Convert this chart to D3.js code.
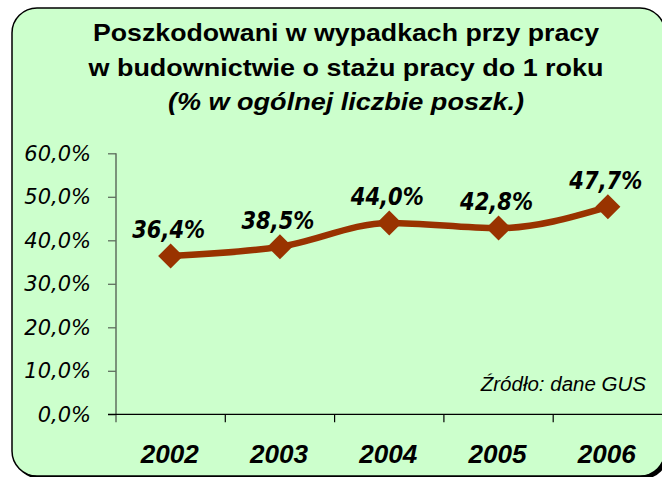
<!DOCTYPE html>
<html>
<head>
<meta charset="utf-8">
<script src="https://cdn.jsdelivr.net/npm/d3@7"></script>
<style>
  html, body { margin: 0; padding: 0; background: #ffffff; }
  svg { display: block; }
</style>
</head>
<body>
<svg id="chart" width="662" height="477"></svg>
<script>
// ---- data ----
const years = ["2002", "2003", "2004", "2005", "2006"];
const values = [36.4, 38.5, 44.0, 42.8, 47.7];
const valueLabels = ["36,4%", "38,5%", "44,0%", "42,8%", "47,7%"];
const yTicks = [0, 10, 20, 30, 40, 50, 60];
const yTickLabels = ["0,0%", "10,0%", "20,0%", "30,0%", "40,0%", "50,0%", "60,0%"];
const titleLines = ["Poszkodowani w wypadkach przy pracy", "w budownictwie o stażu pracy do 1 roku", "(% w ogólnej liczbie poszk.)"];
const sourceText = "Źródło: dane GUS";

const svg = d3.select("#chart");

// background panel with shadow
svg.append("rect").attr("x", 15).attr("y", 11).attr("width", 653).attr("height", 468)
  .attr("rx", 25).attr("ry", 25).attr("fill", "#000");
svg.append("rect").attr("x", 12).attr("y", 8).attr("width", 653).attr("height", 468)
  .attr("rx", 25).attr("ry", 25).attr("fill", "#CCFFCC").attr("stroke", "#000").attr("stroke-width", 1.5);

// title (stretched horizontally like the reference)
const titleY = [41, 75.5, 110];
const titleW = [506, 515, 356];
titleLines.forEach((t, i) => {
  svg.append("text").attr("x", 346).attr("y", titleY[i])
    .attr("text-anchor", "middle")
    .attr("font-family", "'Liberation Sans', Arial, sans-serif")
    .attr("font-weight", "bold")
    .attr("font-style", i === 2 ? "italic" : "normal")
    .attr("font-size", 24)
    .attr("textLength", titleW[i])
    .attr("lengthAdjust", "spacingAndGlyphs")
    .attr("fill", "#000")
    .text(t);
});

// scales
const x = d3.scaleBand().domain(years).range([116, 662.5]).paddingInner(0).paddingOuter(0);
const y = d3.scaleLinear().domain([0, 60]).range([414.3, 153.3]);

// y axis
const yAxis = d3.axisLeft(y).tickValues(yTicks).tickSize(8).tickFormat((d, i) => yTickLabels[i]).tickPadding(17);
const gy = svg.append("g").attr("transform", "translate(116,0)").call(yAxis);
gy.select(".domain").attr("d", `M0,${y(60)}V${y(0) + 8}`).attr("stroke", "#5f6f5f").attr("stroke-width", 1.5);
gy.selectAll(".tick line").attr("stroke", "#5f6f5f").attr("stroke-width", 1.3);
gy.selectAll(".tick text")
  .attr("font-family", "'DejaVu Sans', Verdana, sans-serif")
  .attr("font-style", "italic")
  .attr("font-size", 21)
  .attr("fill", "#000");

// x axis
const xAxis = d3.axisBottom(x).tickSize(0).tickPadding(0).tickFormat("");
const gx = svg.append("g").attr("transform", `translate(0,${y(0)})`).call(xAxis);
gx.select(".domain").attr("d", "M108,0H670").attr("stroke", "#000").attr("stroke-width", 1.3);
gx.selectAll(".tick").remove();
years.forEach((yr, i) => {
  if (i === 0) return;
  gx.append("line").attr("x1", x(yr)).attr("x2", x(yr)).attr("y1", 0).attr("y2", 8)
    .attr("stroke", "#000").attr("stroke-width", 1.2);
});
// year labels
svg.append("g").selectAll("text").data(years).join("text")
  .attr("x", d => x(d) + x.bandwidth() / 2 - 1)
  .attr("y", 463)
  .attr("text-anchor", "middle")
  .attr("font-family", "'Liberation Sans', Arial, sans-serif")
  .attr("font-weight", "bold")
  .attr("font-style", "italic")
  .attr("font-size", 25.5)
  .attr("textLength", 58)
  .attr("lengthAdjust", "spacingAndGlyphs")
  .attr("fill", "#000")
  .text(d => d);

// line
const pts = years.map((yr, i) => ({ yr, v: values[i], lab: valueLabels[i] }));
const line = d3.line().x(d => x(d.yr) + x.bandwidth() / 2).y(d => y(d.v)).curve(d3.curveMonotoneX);
svg.append("path").datum(pts).attr("d", line)
  .attr("fill", "none").attr("stroke", "#993300").attr("stroke-width", 6.5).attr("stroke-linejoin", "round");

// diamond markers
const r = 12.5;
svg.append("g").selectAll("path").data(pts).join("path")
  .attr("transform", d => `translate(${x(d.yr) + x.bandwidth() / 2},${y(d.v)})`)
  .attr("d", `M0,${-r}L${r},0L0,${r}L${-r},0Z`)
  .attr("fill", "#993300");

// value labels
svg.append("g").selectAll("text").data(pts).join("text")
  .attr("x", d => x(d.yr) + x.bandwidth() / 2 - 2)
  .attr("y", d => y(d.v) - 18)
  .attr("text-anchor", "middle")
  .attr("font-family", "'DejaVu Sans', sans-serif")
  .attr("font-weight", "bold")
  .attr("font-style", "italic")
  .attr("font-size", 25)
  .attr("textLength", 73)
  .attr("lengthAdjust", "spacingAndGlyphs")
  .attr("fill", "#000")
  .text(d => d.lab);

// source
svg.append("text").attr("x", 646).attr("y", 391)
  .attr("text-anchor", "end")
  .attr("font-family", "'Liberation Sans', Arial, sans-serif")
  .attr("font-style", "italic")
  .attr("font-size", 20.5)
  .attr("fill", "#000")
  .text(sourceText);
</script>
</body>
</html>
